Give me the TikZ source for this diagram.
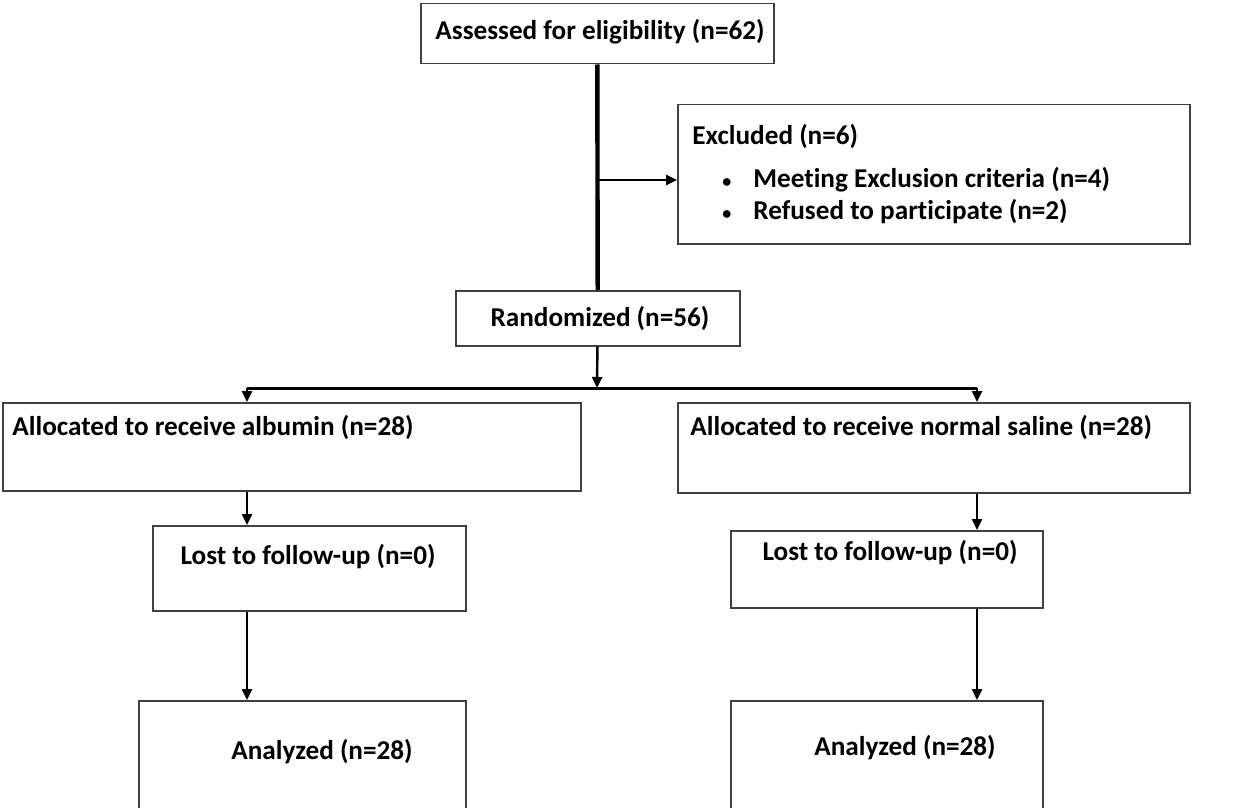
\documentclass[tikz,border=0pt]{standalone}
\usepackage{fontspec}
\setmainfont{Carlito}[Ligatures=NoCommon]
\usetikzlibrary{positioning, arrows.meta}

\newcommand{\dotitem}{{\fontsize{9}{9}\selectfont\textbullet}\hspace{11pt}}

\tikzset{
  box/.style={draw=black!75, line width=0.75pt, anchor=north west, inner sep=0pt},
  lbl/.style={font=\bfseries\fontsize{13.6}{15}\selectfont, inner sep=0pt},
  flow/.style={line width=1.2pt, -{Triangle[length=5.5pt,width=5pt]}},
  trunk/.style={line width=2.2pt},
}

\begin{document}
\begin{tikzpicture}[x=0.5pt, y=-0.5pt]
            \useasboundingbox (0,0) rectangle (1247,808);

            % boxes
            \node[box, minimum width=176.5pt, minimum height=30pt] (assess) at (420,3) {};
            \node[box, minimum width=256pt, minimum height=69.5pt] (excl) at (677,104) {};
            \node[box, minimum width=142pt, minimum height=27.5pt] (rand) at (455,290) {};
            \node[box, minimum width=289pt, minimum height=44pt] (albumin) at (2,402) {};
            \node[box, minimum width=256pt, minimum height=45pt] (saline) at (677,402) {};
            \node[box, minimum width=156.5pt, minimum height=42.5pt] (lostA) at (152,525) {};
            \node[box, minimum width=156pt, minimum height=38.5pt] (lostB) at (730,530) {};
            \node[box, minimum width=163.5pt, minimum height=56pt] (anA) at (138,700) {};
            \node[box, minimum width=156pt, minimum height=56pt] (anB) at (730,700) {};

            % texts
            \node[lbl] (assessT) at (600,32) {Assessed for eligibility (n=62)};
            \node[lbl, anchor=west] (exclT) at (692,136) {Excluded (n=6)};
            \node[lbl, anchor=west] (exclA) at (722,180) {\dotitem Meeting Exclusion criteria (n=4)};
            \node[lbl, anchor=west] (exclB) at (722,212) {\dotitem Refused to participate (n=2)};
            \node[lbl] (randT) at (600,318) {Randomized (n=56)};
            \node[lbl, anchor=west] (albT) at (12,427) {Allocated to receive albumin (n=28)};
            \node[lbl, anchor=west] (salT) at (690,427) {Allocated to receive normal saline (n=28)};
            \node[lbl] (lostAT) at (308,557) {Lost to follow-up (n=0)};
            \node[lbl] (lostBT) at (890,553) {Lost to follow-up (n=0)};
            \node[lbl] (anAT) at (322,752) {Analyzed (n=28)};
            \node[lbl] (anBT) at (905,748) {Analyzed (n=28)};

            \coordinate (fork) at (597,388);
            \coordinate (forkA) at (247,388);
            \coordinate (forkB) at (977,388);

            % connectors
            \draw [trunk] (assess) -- (rand);
            \draw [flow] (assess.south |- exclA.west) -- (excl.west |- exclA.west);
            \draw [flow] (rand) -- (fork);
            \draw [line width=1.5pt] (forkA) -- (forkB);
            \draw [flow] (forkA) -- (forkA |- albumin.north);
            \draw [flow] (forkB) -- (forkB |- saline.north);
            \draw [flow] (forkA |- albumin.south) -- (forkA |- lostA.north);
            \draw [flow] (forkB |- saline.south) -- (forkB |- lostB.north);
            \draw [flow] (forkA |- lostA.south) -- (forkA |- anA.north);
            \draw [flow] (forkB |- lostB.south) -- (forkB |- anB.north);
        \end{tikzpicture}
\end{document}
